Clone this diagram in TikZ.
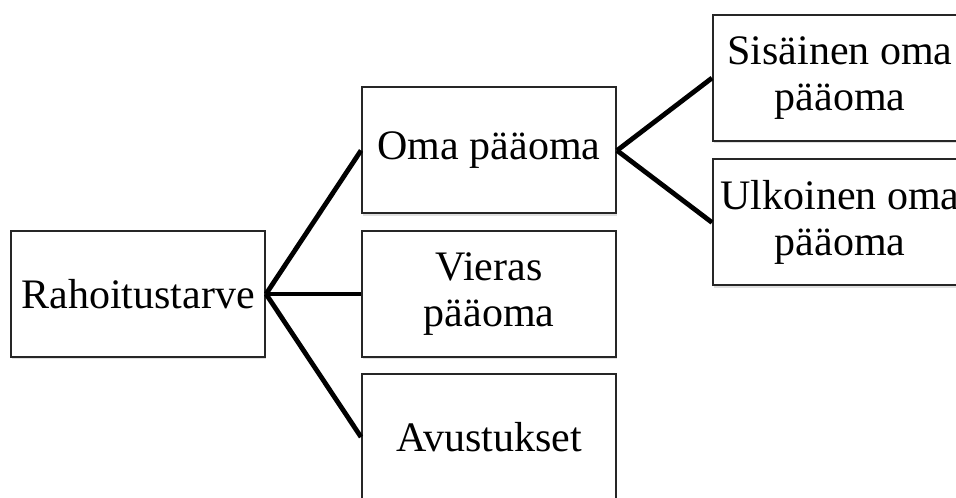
\documentclass[tikz,border=0pt]{standalone}
\usepackage{fontspec}
\setmainfont{Liberation Serif}
\usepackage{tikz}
\usetikzlibrary{shadows}
\tikzstyle{level}	=[rectangle,draw=black!85,line width=1pt,fill=white,minimum width=127pt,minimum height=63pt,inner sep=2pt,align=center,font=\fontsize{21}{23}\selectfont,drop shadow={shadow xshift=0.5pt,shadow yshift=-1.2pt,opacity=0.25}]
\tikzstyle{edgelink}	= [draw,line width=2.4pt,-,black]

\begin{document}
\begin{tikzpicture}[x=0.5pt,y=0.5pt]
		\useasboundingbox (0,0) rectangle (956,497);
		\clip (0,0) rectangle (956,497);
		
		%%%% Root
		\node[level] (rt) at (138,203) {Rahoitustarve};
		
		%%%% Sources
		\node[level] (oma) at (489,346.5) {Oma pääoma};
		\node[level] (vieras) at (489,203) {Vieras\\pääoma};
		\node[level] (avu) at (489,60) {Avustukset};
		
		%%%% Own capital
		\node[level] (sis) at (840,419) {Sisäinen oma\\pääoma};
		\node[level] (ulk) at (840,274.5) {Ulkoinen oma\\pääoma};
		
		%%%% Links
		\foreach \source/ \dest in {rt/oma,rt/vieras,rt/avu}	\path[edgelink] (\source.east) -- (\dest.west) ;
		\foreach \source/ \dest in {oma/sis,oma/ulk}	\path[edgelink] (\source.east) -- (\dest.west) ;
\end{tikzpicture}
\end{document}
